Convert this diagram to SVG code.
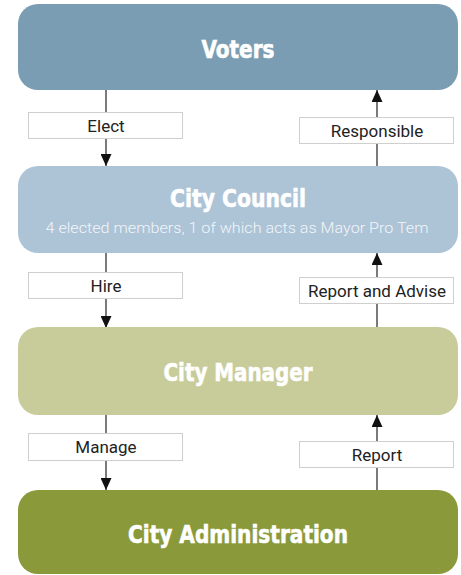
<svg xmlns="http://www.w3.org/2000/svg" width="461" height="575" viewBox="0 0 461 575">
  <style>
    .title { font-family: "DejaVu Sans Condensed", "DejaVu Sans", sans-serif; font-weight: bold; font-size: 25px; fill: #ffffff; stroke: #ffffff; stroke-width: 0.6; text-anchor: middle; }
    .sub { font-family: Roboto, "Liberation Sans", sans-serif; font-weight: 300; font-size: 14px; fill: #f2f6fa; text-anchor: middle; }
    .lbl { font-family: Roboto, "Liberation Sans", sans-serif; font-size: 17px; fill: #222222; text-anchor: middle; }
    .lblbox { fill: #ffffff; stroke: #cfcfcf; stroke-width: 1; }
    .conn { stroke: #333333; stroke-width: 1.3; fill: none; marker-end: url(#arrow); }
  </style>
  <defs>
    <marker id="arrow" markerUnits="userSpaceOnUse" markerWidth="12" markerHeight="11" refX="12" refY="5.5" orient="auto">
      <path d="M0,0 L12,5.5 L0,11 Z" fill="#111111"/>
    </marker>
  </defs>
  <rect width="461" height="575" fill="#ffffff"/>

  <g id="connectors">
    <line class="conn" x1="106" y1="90" x2="106" y2="166"/>
    <line class="conn" x1="106" y1="253" x2="106" y2="328"/>
    <line class="conn" x1="106" y1="415" x2="106" y2="490"/>
    <line class="conn" x1="377" y1="166" x2="377" y2="90"/>
    <line class="conn" x1="377" y1="327" x2="377" y2="253"/>
    <line class="conn" x1="377" y1="490" x2="377" y2="415"/>
    <g id="label-elect"><rect class="lblbox" x="28.5" y="112.5" width="154" height="26"/><text class="lbl" x="106" y="131.5">Elect</text></g>
    <g id="label-responsible"><rect class="lblbox" x="299.5" y="117.5" width="154" height="26"/><text class="lbl" x="377" y="136.5">Responsible</text></g>
    <g id="label-hire"><rect class="lblbox" x="28.5" y="272.5" width="154" height="26"/><text class="lbl" x="106" y="291.5">Hire</text></g>
    <g id="label-report-advise"><rect class="lblbox" x="299.5" y="277.5" width="154" height="26"/><text class="lbl" x="377" y="296.5">Report and Advise</text></g>
    <g id="label-manage"><rect class="lblbox" x="28.5" y="433.5" width="154" height="27"/><text class="lbl" x="106" y="452.5">Manage</text></g>
    <g id="label-report"><rect class="lblbox" x="299.5" y="441.5" width="154" height="26"/><text class="lbl" x="377" y="460.5">Report</text></g>
  </g>

  <g id="voters">
    <rect x="18" y="4" width="440" height="86" rx="20" fill="#7b9db3"/>
    <text class="title" x="238" y="58" textLength="73" lengthAdjust="spacingAndGlyphs">Voters</text>
  </g>
  <g id="city-council">
    <rect x="18" y="166" width="440" height="87" rx="20" fill="#adc3d6"/>
    <text class="title" x="238" y="207" textLength="136" lengthAdjust="spacingAndGlyphs">City Council</text>
    <text class="sub" x="237" y="233" textLength="383" lengthAdjust="spacingAndGlyphs">4 elected members, 1 of which acts as Mayor Pro Tem</text>
  </g>
  <g id="city-manager">
    <rect x="18" y="327" width="440" height="88" rx="20" fill="#c8cc9b"/>
    <text class="title" x="238" y="381" textLength="149" lengthAdjust="spacingAndGlyphs">City Manager</text>
  </g>
  <g id="city-administration">
    <rect x="18" y="490" width="440" height="84" rx="20" fill="#8a9a3b"/>
    <text class="title" x="238" y="543" textLength="220" lengthAdjust="spacingAndGlyphs">City Administration</text>
  </g>
</svg>
